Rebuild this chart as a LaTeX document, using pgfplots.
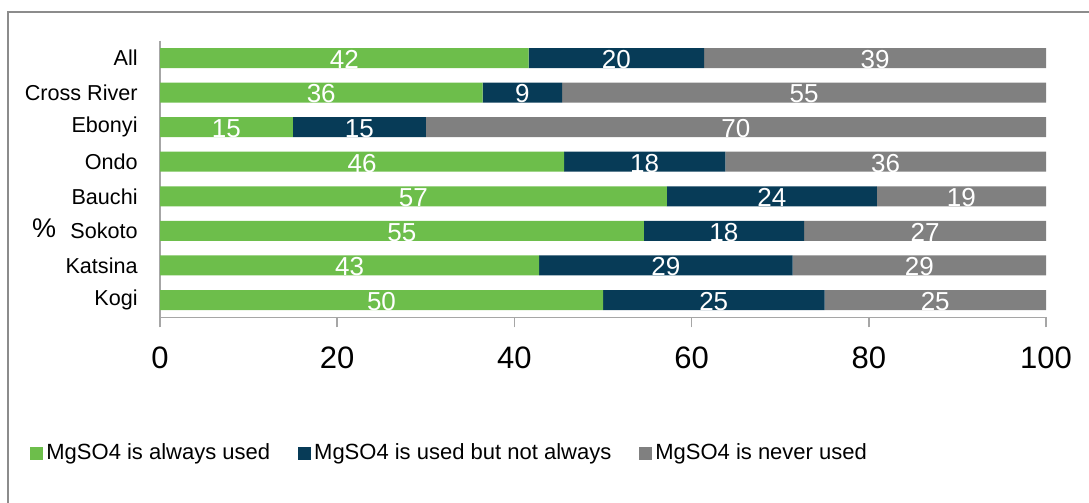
\documentclass[border=0pt]{standalone}
\usepackage{pgfplots}
\usepackage{pgfplotstable}
\usepackage{fontspec}
\setmainfont{Liberation Sans}
\pgfplotsset{compat=1.18}

\definecolor{always}{HTML}{6DBE4B}
\definecolor{sometimes}{HTML}{073B57}
\definecolor{never}{HTML}{808080}
\definecolor{axisgray}{HTML}{A6A6A6}
\definecolor{framegray}{HTML}{8C8C8C}

% Share of facilities by MgSO4 use, per state (percent)
\pgfplotstableread[col sep=comma]{
name,g,n,r
All,41.6,19.8,38.6
Cross River,36.4,9.0,54.6
Ebonyi,15.0,15.0,70.0
Ondo,45.6,18.2,36.2
Bauchi,57.2,23.7,19.1
Sokoto,54.6,18.1,27.3
Katsina,42.8,28.6,28.6
Kogi,50.0,25.0,25.0
}\datatable

\pgfplotsset{
  /pgf/number format/assume math mode=true,
  common/.style={
    scale only axis,
    width=443pt, height=138.3pt,
    xmin=0, xmax=100,
    ymin=-0.5, ymax=7.5,
    y dir=reverse,
    at={(80pt,-158.65pt)}, anchor=south west,
  },
}

\begin{document}
\begin{tikzpicture}
\useasboundingbox (0pt,0pt) rectangle (544.5pt,-251.5pt);
\draw[framegray, line width=0.8pt] (4pt,-260pt) -- (4pt,-6pt) -- (560pt,-6pt);

\begin{axis}[
  common,
  xbar stacked,
  bar width=10pt,
  axis lines*=left,
  axis line style={axisgray, line width=0.8pt},
  xtick={0,20,...,100},
  tick align=outside,
  major tick length=5pt,
  xtick style={axisgray, line width=0.8pt},
  ytick={0,...,7},
  yticklabels from table={\datatable}{name},
  ytick style={draw=none},
  xticklabel style={font=\fontsize{15.5}{18}\selectfont, inner sep=0pt, yshift=-9.5pt},
  yticklabel style={font=\fontsize{10.8}{13}\selectfont, inner sep=0pt, xshift=-6pt},
  ylabel={\%},
  ylabel style={rotate=-90, font=\fontsize{13.5}{16}\selectfont,
    at={(axis description cs:-0.1309,0.3228)}, anchor=center},
  legend columns=-1,
  legend style={
    draw=none, fill=none,
    at={(axis description cs:-0.1467,-0.4906)}, anchor=west,
    font=\fontsize{11}{13}\selectfont,
    inner sep=0pt,
    nodes={inner sep=1.5pt},
    /tikz/every even column/.append style={column sep=12.5pt},
  },
  legend image code/.code={\fill[#1] (0pt,-3.25pt) rectangle (6.5pt,3.25pt);},
]
\addplot[fill=always, draw=none] table[x=g, y expr=\coordindex] {\datatable};
\addplot[fill=sometimes, draw=none] table[x=n, y expr=\coordindex] {\datatable};
\addplot[fill=never, draw=none] table[x=r, y expr=\coordindex] {\datatable};
\legend{MgSO4 is always used, MgSO4 is used but not always, MgSO4 is never used}
\end{axis}

% value labels at the centre of each segment
\begin{axis}[
  common,
  hide axis,
  nodes near coords={\pgfmathprintnumber[fixed,precision=0]{\pgfplotspointmeta}},
  every node near coord/.append style={font=\fontsize{13}{15}\selectfont, text=white, anchor=center, yshift=-0.7pt, inner sep=0pt},
  point meta=explicit,
]
\addplot[draw=none, mark=none] table[x expr=\thisrow{g}/2, y expr=\coordindex, meta=g] {\datatable};
\addplot[draw=none, mark=none] table[x expr=\thisrow{g}+\thisrow{n}/2, y expr=\coordindex, meta=n] {\datatable};
\addplot[draw=none, mark=none] table[x expr=\thisrow{g}+\thisrow{n}+\thisrow{r}/2, y expr=\coordindex, meta=r] {\datatable};
\end{axis}
\end{tikzpicture}
\end{document}
